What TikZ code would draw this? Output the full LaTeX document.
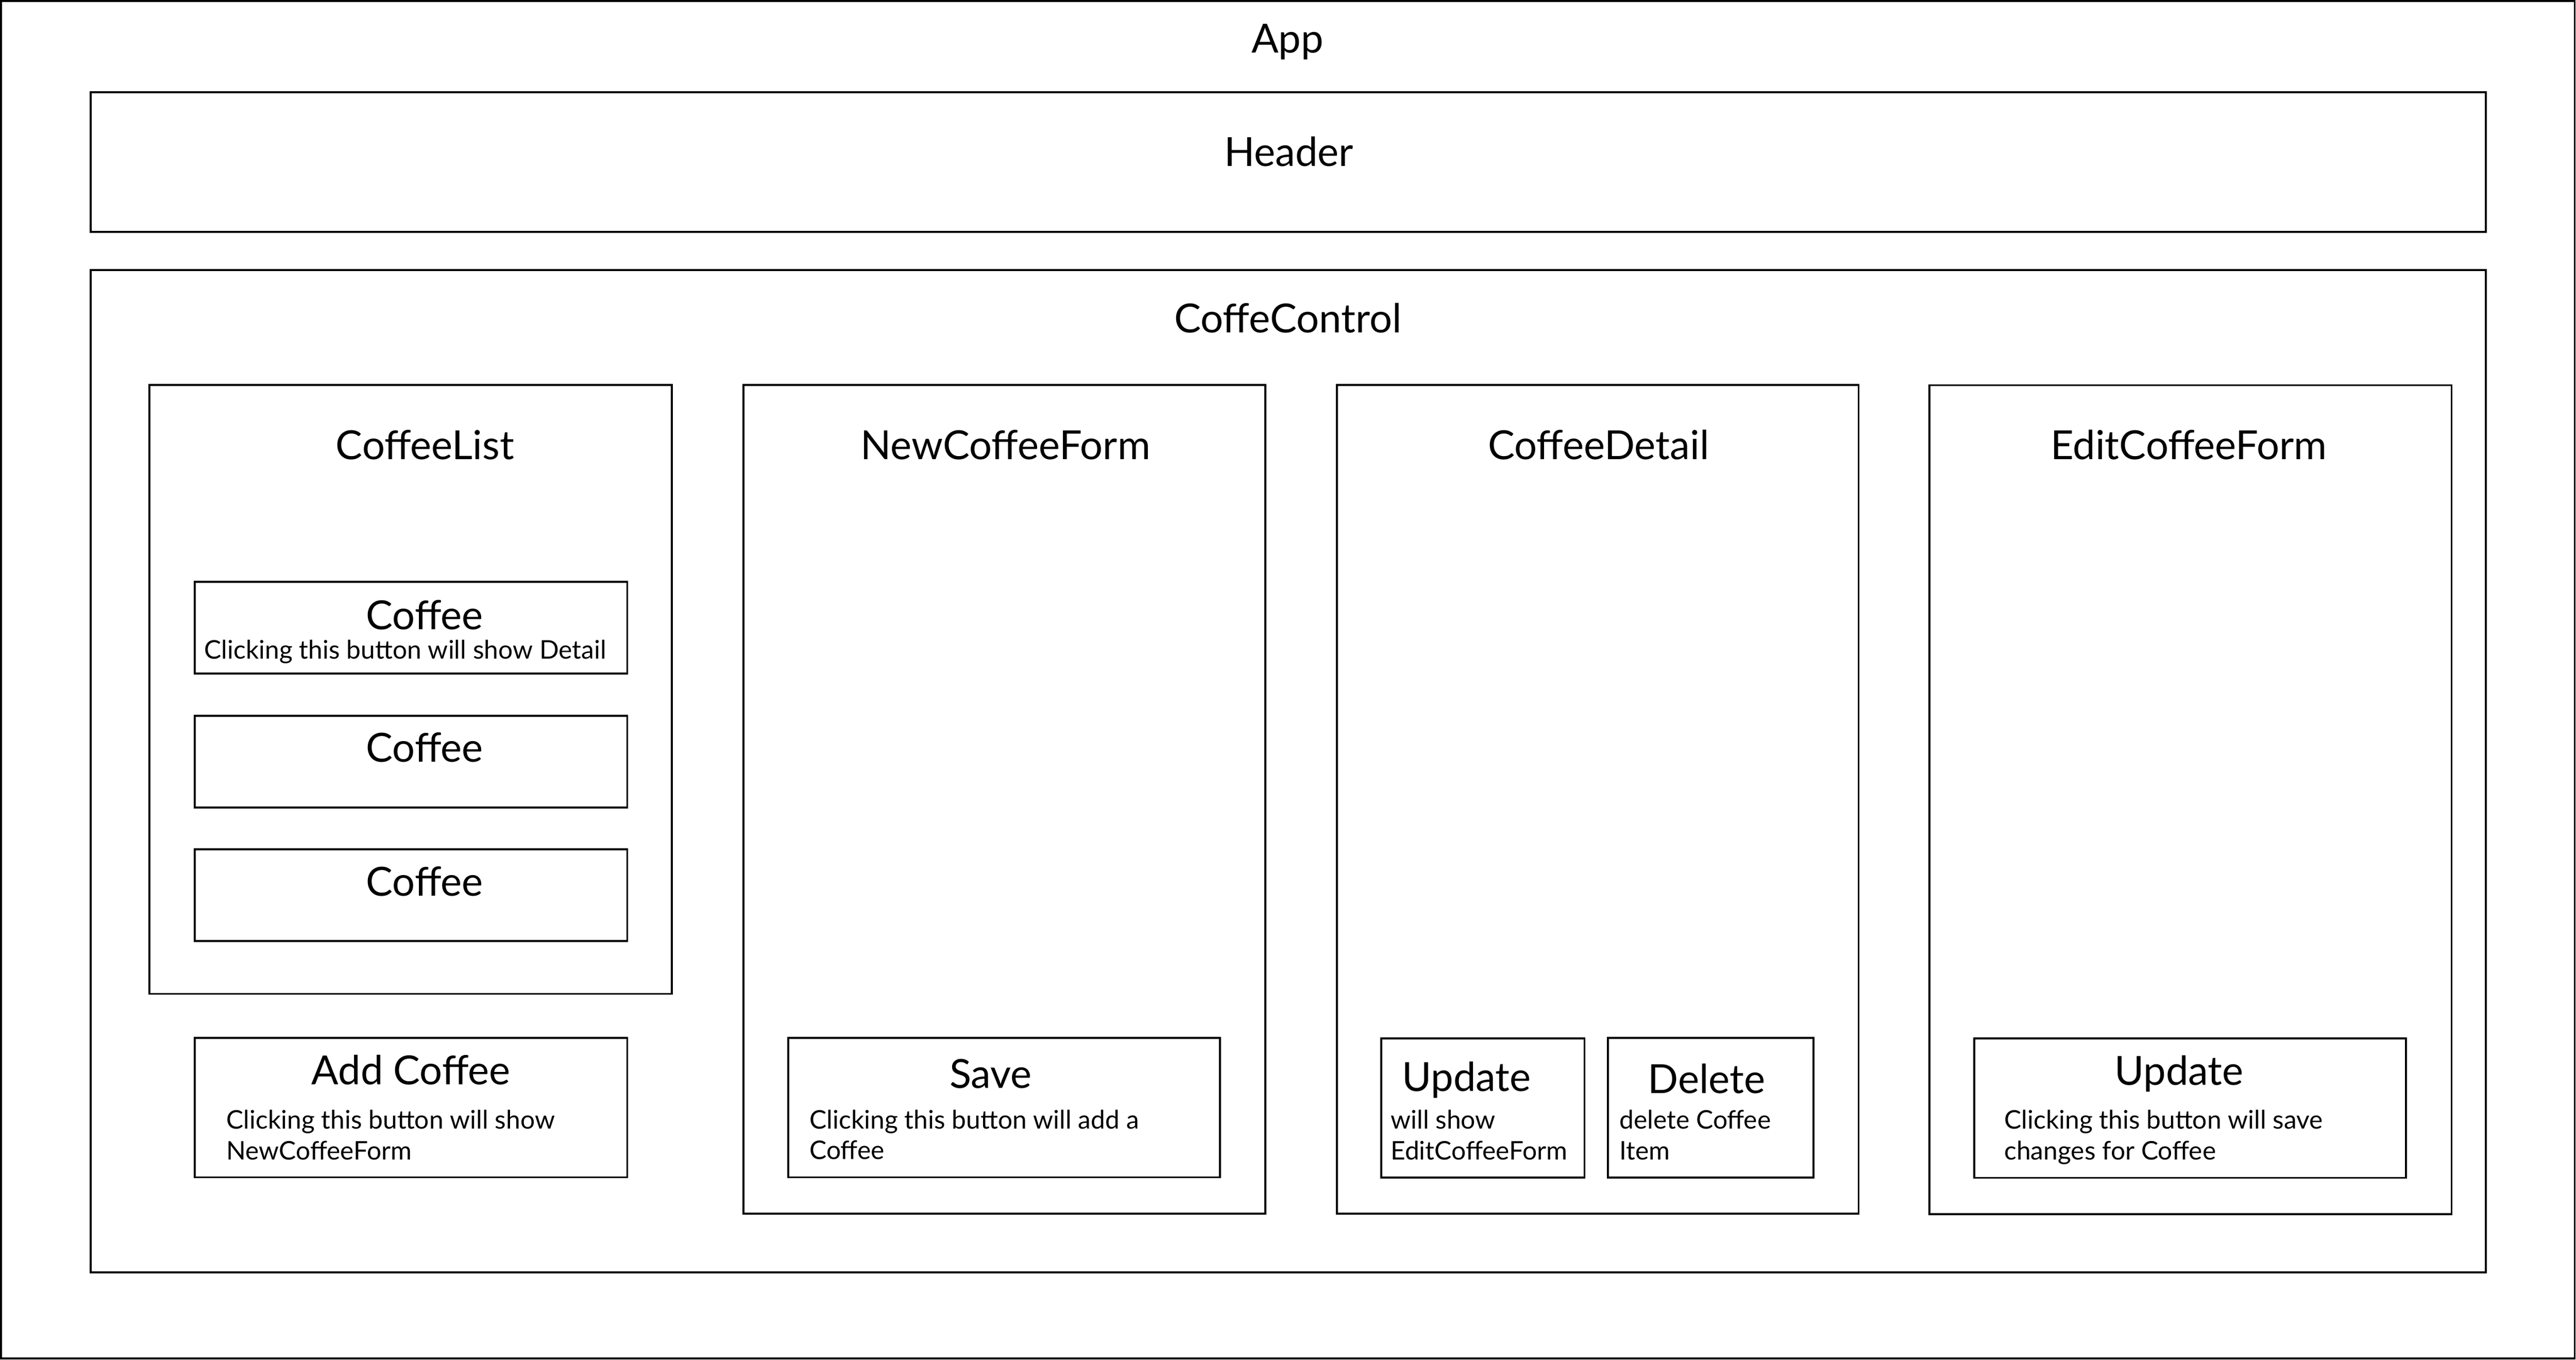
\documentclass[tikz,border=0pt]{standalone}
\usepackage{fontspec}
\setmainfont{Lato}
\begin{document}
\begin{tikzpicture}[x=1pt,y=-1pt,
  box/.style={draw=black,line width=1.16pt,rectangle,inner sep=0pt,outer sep=0pt},
  big/.style={inner sep=0pt,outer sep=0pt,anchor=base,font=\fontsize{24.4}{28}\selectfont},
  small/.style={inner sep=0pt,outer sep=0pt,anchor=base west,font=\fontsize{15.6}{18}\selectfont}]
\useasboundingbox (0,0) rectangle (1568,827.35);
% boxes
\node[box,minimum width=1566.6pt,minimum height=826pt] (app) at (783.9,413.6) {};
\node[box,minimum width=1457.9pt,minimum height=85pt] (header) at (784.05,98.7) {};
\node[box,minimum width=1457.9pt,minimum height=609.8pt] (control) at (784.05,469.3) {};
\node[box,minimum width=318pt,minimum height=370.6pt] (list) at (250,419.5) {};
\node[box,minimum width=317.5pt,minimum height=504.3pt] (newform) at (611.35,486.45) {};
\node[box,minimum width=317.6pt,minimum height=504.3pt] (detail) at (972.5,486.45) {};
\node[box,minimum width=317.7pt,minimum height=504.3pt] (editform) at (1333.35,486.6) {};
\node[box,minimum width=263.2pt,minimum height=55.8pt] (coffee1) at (250.2,382.0) {};
\node[box,minimum width=263.2pt,minimum height=55.8pt] (coffee2) at (250.2,463.5) {};
\node[box,minimum width=263.2pt,minimum height=55.7pt] (coffee3) at (250.2,544.75) {};
\node[box,minimum width=263.2pt,minimum height=84.9pt] (addbtn) at (250.2,673.95) {};
\node[box,minimum width=262.9pt,minimum height=84.8pt] (savebtn) at (611.15,674.0) {};
\node[box,minimum width=123.7pt,minimum height=84.7pt] (updbtn) at (902.65,674.15) {};
\node[box,minimum width=125.1pt,minimum height=85pt] (delbtn) at (1041.25,674.0) {};
\node[box,minimum width=262.8pt,minimum height=84.8pt] (upd2btn) at (1333.2,674.3) {};
% titles
\node[big] (tapp) at (783.7,32.2) {App};
\node[big] (theader) at (784.5,101.2) {Header};
\node[big] (tcontrol) at (784,202.4) {CoffeControl};
\node[big] (tlist) at (258.7,279.7) {CoffeeList};
\node[big] (tnew) at (612,279.5) {NewCoffeeForm};
\node[big] (tdetail) at (973,279.5) {CoffeeDetail};
\node[big] (tedit) at (1332.3,279.5) {EditCoffeeForm};
\node[big] (tc1) at (258.5,383.2) {Coffee};
\node[big] (tc2) at (258.5,463.7) {Coffee};
\node[big] (tc3) at (258.5,545.1) {Coffee};
\node[big] (tadd) at (250.2,660.1) {Add Coffee};
\node[big] (tsave) at (603,662.0) {Save};
\node[big] (tupd) at (892.6,663.9) {Update};
\node[big] (tdel) at (1038.7,665.3) {Delete};
\node[big] (tupd2) at (1326.3,660.4) {Update};
% descriptions
\node[small] (dc1) at (124.4,400.8) {Clicking this button will show Detail};
\node[small] (dadd1) at (137.8,686.8) {Clicking this button will show};
\node[small] (dadd2) at (137.8,705.8) {NewCoffeeForm};
\node[small] (dsave1) at (492.8,687.0) {Clicking this button will add a};
\node[small] (dsave2) at (492.8,705.5) {Coffee};
\node[small] (dupd1) at (846.5,687.0) {will show};
\node[small] (dupd2) at (846.5,705.9) {EditCoffeeForm};
\node[small] (ddel1) at (985.8,687.0) {delete Coffee};
\node[small] (ddel2) at (985.8,705.9) {Item};
\node[small] (dupd21) at (1220.0,686.8) {Clicking this button will save};
\node[small] (dupd22) at (1220.0,705.6) {changes for Coffee};
\end{tikzpicture}
\end{document}
